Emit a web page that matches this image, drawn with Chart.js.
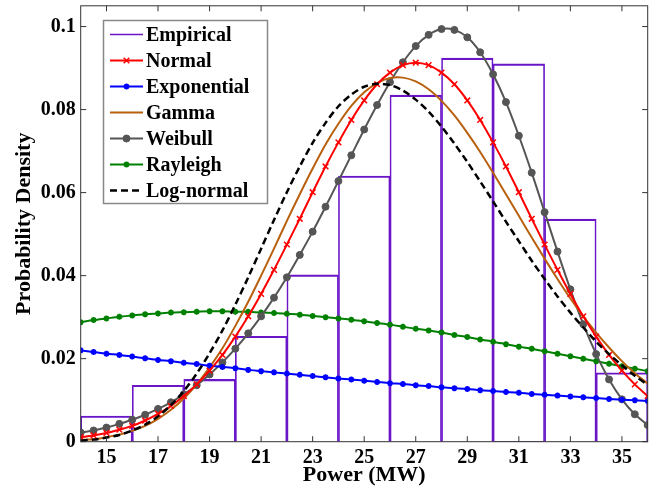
<!DOCTYPE html>
<html>
<head>
<meta charset="utf-8">
<script src="https://cdn.jsdelivr.net/npm/chart.js@4.4.0/dist/chart.umd.min.js"></script>
<style>
  body { margin: 0; background: #fff; }
  canvas { display: block; }
</style>
</head>
<body>
<canvas id="myChart" width="660" height="491"></canvas>
<script>
// histogram bins (MW) and the empirical density of each bin
const binCenters = [15, 17, 19, 21, 23, 25, 27, 29, 31, 33, 35];
const empirical = [0.0062, 0.0136, 0.0150, 0.0254, 0.0402, 0.0640, 0.0835, 0.0924, 0.0910, 0.0536, 0.0166];

// power values where the fitted curves were read
const powerGrid = [14, 14.5, 15, 15.5, 16, 16.5, 17, 17.5, 18, 18.5, 19, 19.5, 20, 20.5, 21, 21.5,
  22, 22.5, 23, 23.5, 24, 24.5, 25, 25.5, 26, 26.5, 27, 27.5, 28, 28.5, 29, 29.5, 30, 30.5,
  31, 31.5, 32, 32.5, 33, 33.5, 34, 34.5, 35, 35.5, 36];

const normal = [0.0011, 0.0015, 0.0021, 0.0029, 0.0038, 0.0051, 0.0067, 0.0086, 0.0110, 0.0138, 0.0171,
  0.0209, 0.0253, 0.0302, 0.0356, 0.0414, 0.0475, 0.0537, 0.0601, 0.0663, 0.0721, 0.0775, 0.0822,
  0.0861, 0.0889, 0.0907, 0.0913, 0.0907, 0.0889, 0.0861, 0.0822, 0.0775, 0.0721, 0.0663, 0.0601,
  0.0537, 0.0475, 0.0414, 0.0356, 0.0302, 0.0253, 0.0209, 0.0171, 0.0138, 0.0110];
const exponential = [0.0220, 0.0216, 0.0212, 0.0209, 0.0205, 0.0201, 0.0197, 0.0194, 0.0190, 0.0187,
  0.0183, 0.0180, 0.0177, 0.0173, 0.0170, 0.0167, 0.0164, 0.0161, 0.0158, 0.0155, 0.0152, 0.0150,
  0.0147, 0.0144, 0.0141, 0.0139, 0.0136, 0.0134, 0.0131, 0.0129, 0.0127, 0.0124, 0.0122, 0.0120,
  0.0118, 0.0115, 0.0113, 0.0111, 0.0109, 0.0107, 0.0105, 0.0103, 0.0101, 0.0100, 0.0098];
const gamma = [0.0004, 0.0006, 0.0011, 0.0017, 0.0026, 0.0038, 0.0055, 0.0077, 0.0104, 0.0138, 0.0179,
  0.0225, 0.0279, 0.0337, 0.0400, 0.0465, 0.0532, 0.0596, 0.0658, 0.0716, 0.0766, 0.0809, 0.0842,
  0.0864, 0.0876, 0.0877, 0.0868, 0.0849, 0.0821, 0.0786, 0.0744, 0.0698, 0.0648, 0.0596, 0.0544,
  0.0492, 0.0441, 0.0392, 0.0345, 0.0302, 0.0263, 0.0227, 0.0194, 0.0165, 0.0140];
const weibull = [0.0022, 0.0027, 0.0034, 0.0043, 0.0053, 0.0065, 0.0079, 0.0095, 0.0114, 0.0136, 0.0162,
  0.0191, 0.0224, 0.0261, 0.0302, 0.0347, 0.0396, 0.0450, 0.0506, 0.0566, 0.0628, 0.0690, 0.0752,
  0.0811, 0.0866, 0.0914, 0.0953, 0.0980, 0.0994, 0.0992, 0.0974, 0.0938, 0.0885, 0.0818, 0.0737,
  0.0648, 0.0553, 0.0458, 0.0367, 0.0283, 0.0211, 0.0150, 0.0102, 0.0066, 0.0040];
const rayleigh = [0.0288, 0.0293, 0.0297, 0.0301, 0.0304, 0.0307, 0.0309, 0.0311, 0.0312, 0.0313, 0.0314,
  0.0314, 0.0313, 0.0313, 0.0311, 0.0310, 0.0308, 0.0306, 0.0303, 0.0300, 0.0297, 0.0294, 0.0290,
  0.0286, 0.0282, 0.0277, 0.0272, 0.0268, 0.0263, 0.0257, 0.0252, 0.0246, 0.0241, 0.0235, 0.0229,
  0.0224, 0.0218, 0.0212, 0.0206, 0.0200, 0.0194, 0.0188, 0.0182, 0.0176, 0.0170];
const logNormal = [0.0003, 0.0005, 0.0010, 0.0016, 0.0027, 0.0041, 0.0061, 0.0088, 0.0122, 0.0164, 0.0213,
  0.0268, 0.0330, 0.0396, 0.0465, 0.0534, 0.0601, 0.0663, 0.0720, 0.0768, 0.0808, 0.0836, 0.0855,
  0.0862, 0.0859, 0.0846, 0.0824, 0.0795, 0.0759, 0.0718, 0.0674, 0.0627, 0.0579, 0.0530, 0.0483,
  0.0436, 0.0392, 0.0350, 0.0311, 0.0275, 0.0241, 0.0211, 0.0184, 0.0159, 0.0137];

const xTicks = [15, 17, 19, 21, 23, 25, 27, 29, 31, 33, 35];
const yTicks = [0, 0.02, 0.04, 0.06, 0.08, 0.1];

const serif = '"Liberation Serif", "Times New Roman", serif';

function pairs(xs, ys) {
  return xs.map((x, i) => ({ x: x, y: ys[i] }));
}

function curve(label, values, color, extra) {
  return Object.assign({
    type: 'line',
    label: label,
    data: pairs(powerGrid, values),
    borderColor: color,
    backgroundColor: color,
    borderWidth: 2,
    pointRadius: 0,
    fill: false,
    tension: 0.3,
    order: 1
  }, extra);
}

// frame with inward tick marks, matlab style
const frame = {
  id: 'frame',
  afterDatasetsDraw(chart) {
    const { ctx, chartArea: a, scales } = chart;
    const len = 5.5;
    ctx.save();
    ctx.strokeStyle = '#333';
    ctx.lineWidth = 1;
    ctx.strokeRect(a.left, a.top, a.right - a.left, a.bottom - a.top);
    ctx.beginPath();
    scales.x.ticks.forEach(t => {
      const px = scales.x.getPixelForValue(t.value);
      ctx.moveTo(px, a.bottom); ctx.lineTo(px, a.bottom - len);
      ctx.moveTo(px, a.top); ctx.lineTo(px, a.top + len);
    });
    scales.y.ticks.forEach(t => {
      const py = scales.y.getPixelForValue(t.value);
      ctx.moveTo(a.left, py); ctx.lineTo(a.left + len, py);
      ctx.moveTo(a.right, py); ctx.lineTo(a.right - len, py);
    });
    ctx.stroke();
    ctx.restore();
  }
};

const legendBox = {
  id: 'legendBox',
  afterDraw(chart) {
    const ctx = chart.ctx;
    const left = 103.5, top = 20.5, w = 164, h = 183;
    ctx.save();
    ctx.fillStyle = '#fff';
    ctx.fillRect(left, top, w, h);
    ctx.strokeStyle = '#888';
    ctx.lineWidth = 1.5;
    ctx.strokeRect(left, top, w, h);
    ctx.font = 'bold 20px ' + serif;
    ctx.textBaseline = 'middle';
    chart.data.datasets.forEach((ds, i) => {
      const y = 34.5 + i * 26;
      ctx.strokeStyle = ds.borderColor;
      ctx.lineWidth = ds.legendWidth || ds.borderWidth;
      ctx.setLineDash(ds.borderDash || []);
      ctx.beginPath();
      ctx.moveTo(110, y);
      ctx.lineTo(143, y);
      ctx.stroke();
      ctx.setLineDash([]);
      if (ds.pointRadius) {
        ctx.fillStyle = ds.pointBackgroundColor || ds.borderColor;
        ctx.lineWidth = ds.pointBorderWidth || 1;
        Chart.helpers.drawPoint(ctx, {
          pointStyle: ds.pointStyle,
          radius: ds.pointRadius,
          borderWidth: ds.pointBorderWidth || 1,
          rotation: 0
        }, 126.5, y);
      }
      ctx.fillStyle = '#000';
      ctx.fillText(ds.label, 146, y + 1);
    });
    ctx.restore();
  }
};

const ctx = document.getElementById('myChart').getContext('2d');

const myChart = new Chart(ctx, {
  type: 'line',
  data: {
    datasets: [
      {
        type: 'bar',
        label: 'Empirical',
        data: pairs(binCenters, empirical),
        backgroundColor: 'rgba(0,0,0,0)',
        borderColor: '#6a16c8',
        borderWidth: { left: 1, right: 1, top: 1.5, bottom: 0 },
        legendWidth: 1.5,
        borderSkipped: false,
        barPercentage: 1,
        categoryPercentage: 1,
        grouped: false,
        order: 10
      },
      curve('Normal', normal, '#ff0000', {
        pointStyle: 'crossRot', pointRadius: 4, pointBorderWidth: 1.5
      }),
      curve('Exponential', exponential, '#0000ff', {
        pointStyle: 'star', pointRadius: 3, pointBorderWidth: 1.8
      }),
      curve('Gamma', gamma, '#b8600e', {}),
      curve('Weibull', weibull, '#555555', {
        pointStyle: 'circle', pointRadius: 3.5, pointBorderWidth: 1
      }),
      curve('Rayleigh', rayleigh, '#008000', {
        pointStyle: 'star', pointRadius: 3, pointBorderWidth: 1.8
      }),
      curve('Log-normal', logNormal, '#000000', {
        borderDash: [7, 4], borderWidth: 2.5, order: 0
      })
    ]
  },
  options: {
    responsive: false,
    animation: false,
    devicePixelRatio: 1,
    layout: { padding: { top: 4.3, right: 12.3, bottom: 0, left: 0 } },
    plugins: {
      legend: { display: false },
      tooltip: { enabled: false }
    },
    scales: {
      x: {
        type: 'linear',
        min: 14,
        max: 36,
        offset: false,
        afterBuildTicks: s => { s.ticks = xTicks.map(v => ({ value: v })); },
        afterFit: s => { s.height = 49.3; s.paddingLeft = 0; s.paddingRight = 0; },
        grid: { display: false, drawTicks: false },
        border: { display: false },
        ticks: {
          padding: 4,
          color: '#000',
          maxRotation: 0,
          font: { family: serif, size: 20, weight: 'bold' }
        },
        title: {
          display: true,
          text: 'Power (MW)',
          color: '#000',
          padding: { top: 0, bottom: 2 },
          font: { family: serif, size: 22, weight: 'bold' }
        }
      },
      y: {
        type: 'linear',
        min: 0,
        max: 0.105,
        afterBuildTicks: s => { s.ticks = yTicks.map(v => ({ value: v })); },
        afterFit: s => { s.width = 80.7; s.paddingTop = 0; s.paddingBottom = 0; },
        grid: { display: false, drawTicks: false },
        border: { display: false },
        ticks: {
          padding: 5,
          color: '#000',
          font: { family: serif, size: 20, weight: 'bold' },
          callback: v => String(+v.toFixed(2))
        },
        title: {
          display: true,
          text: 'Probability Density',
          color: '#000',
          padding: { top: 11, bottom: 0 },
          font: { family: serif, size: 22, weight: 'bold' }
        }
      }
    }
  },
  plugins: [frame, legendBox]
});
</script>
</body>
</html>
